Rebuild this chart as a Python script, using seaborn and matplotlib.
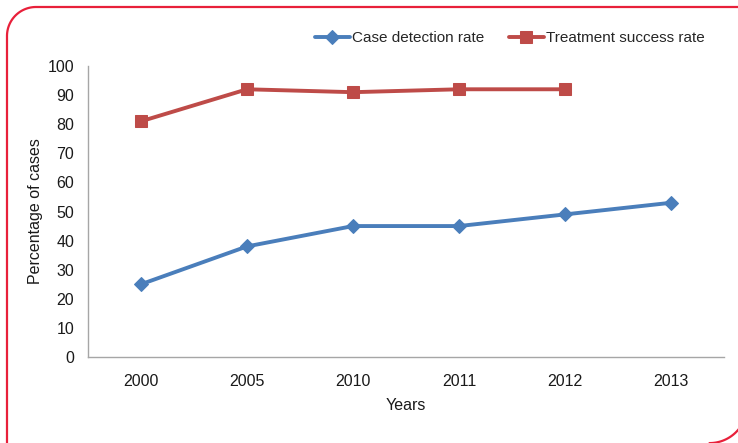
import matplotlib
matplotlib.use("Agg")
import matplotlib.pyplot as plt
from matplotlib.lines import Line2D
import numpy as np
import pandas as pd
import seaborn as sns

years = ["2000", "2005", "2010", "2011", "2012", "2013"]
case_detection = [25, 38, 45, 45, 49, 53]
treatment_success = [81, 92, 91, 92, 92, np.nan]

sns.set_style("white")
plt.rcParams["font.family"] = ["Liberation Sans", "DejaVu Sans"]

df = pd.DataFrame({
    "Years": years,
    "Case detection rate": case_detection,
    "Treatment success rate": treatment_success,
})

W, H = 738, 443
fig = plt.figure(figsize=(W / 100, H / 100), dpi=100)
ax = fig.add_axes([88 / W, 1 - 357 / H, (724 - 88) / W, (357 - 66) / H])

blue = "#4A7EBB"
red = "#BE4B48"
sns.lineplot(data=df, x="Years", y="Case detection rate", ax=ax, color=blue,
             marker="D", markersize=7, linewidth=2.8, sort=False,
             markeredgecolor=blue, label="Case detection rate")
sns.lineplot(data=df.dropna(), x="Years", y="Treatment success rate", ax=ax, color=red,
             marker="s", markersize=8, linewidth=2.8, sort=False,
             markeredgecolor=red, label="Treatment success rate")

ax.set_xlim(-0.5, len(years) - 0.5)
ax.set_ylim(0, 100)
ax.set_yticks(range(0, 101, 10))

fs = 11.5
# category labels at centres, tick marks at the boundaries between categories
ax.set_xticks(np.arange(-0.5, len(years)), labels=[""] * (len(years) + 1))
ax.set_xticks(np.arange(len(years)), labels=years, minor=True)
ax.tick_params(axis="x", which="major", length=5, width=1, color="#A6A6A6", direction="out")
ax.tick_params(axis="x", which="minor", length=0, pad=12, labelsize=fs, labelcolor="#1a1a1a")
ax.tick_params(axis="y", length=5, width=1, color="#A6A6A6", direction="out",
               labelsize=fs, labelcolor="#1a1a1a", pad=5)

for side in ("top", "right"):
    ax.spines[side].set_visible(False)
for side in ("left", "bottom"):
    ax.spines[side].set_color("#A6A6A6")
    ax.spines[side].set_linewidth(1)

ax.set_xlabel("Years", fontsize=fs, color="#1a1a1a", labelpad=7)
ax.set_ylabel("Percentage of cases", fontsize=fs, color="#1a1a1a", labelpad=3)

leg = ax.legend(loc="lower left", bbox_to_anchor=(301 / W, 1 - 59 / H),
                bbox_transform=fig.transFigure, ncol=2, frameon=False,
                fontsize=11, handlelength=2.3, columnspacing=1.6, handletextpad=0.15)


# red decorative frame: rounded top-left corner and a rounded bottom-right corner
def px(xs, ys):
    return np.asarray(xs) / W, 1 - np.asarray(ys) / H


frame_color = "#E8203A"
r1, c1 = 29, (7 + 29, 7 + 29)
t = np.linspace(np.pi, 1.5 * np.pi, 40)
arc_x = c1[0] + r1 * np.cos(t)
arc_y = c1[1] + r1 * np.sin(t)
xs = np.concatenate([[7], arc_x, [W + 5]])
ys = np.concatenate([[H + 5], arc_y, [7]])
fig.add_artist(Line2D(*px(xs, ys), transform=fig.transFigure,
                      color=frame_color, linewidth=1.6, solid_capstyle="butt"))

r2, c2 = 37.6, (709.5, 405.5)
t2 = np.linspace(0, 0.5 * np.pi, 40)
fig.add_artist(Line2D(*px(c2[0] + r2 * np.cos(t2), c2[1] + r2 * np.sin(t2)),
                      transform=fig.transFigure, color=frame_color, linewidth=1.6))

fig.savefig("out.png", dpi=100)
